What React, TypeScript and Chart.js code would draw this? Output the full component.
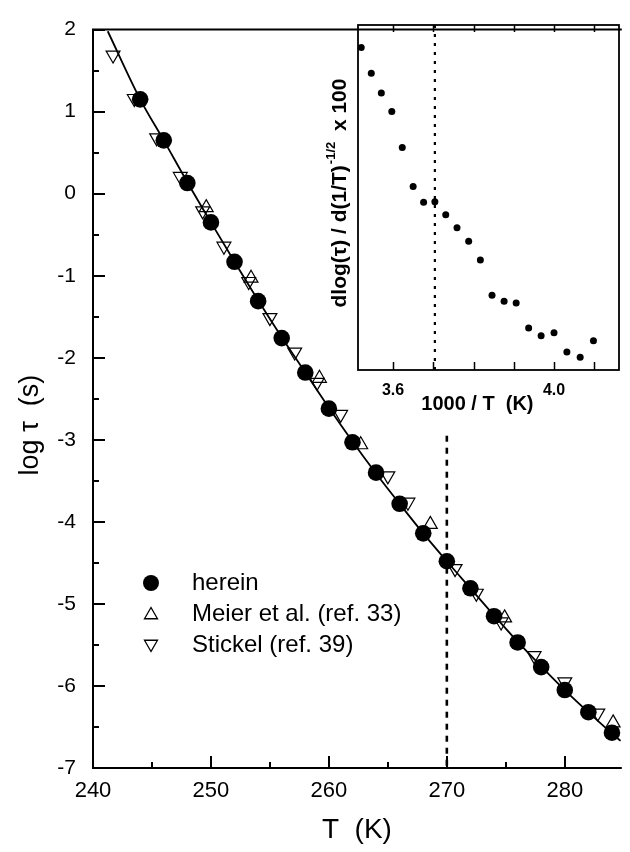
import React, { useEffect, useRef } from 'react';
import { Chart, registerables } from 'chart.js';

Chart.register(...registerables);

const FONT = '"Liberation Sans", Arial, Helvetica, sans-serif';
Chart.defaults.font.family = FONT;
Chart.defaults.color = '#000';

// ---------- main plot data ----------
const hereinT = [244, 246, 248, 250, 252, 254, 256, 258, 260, 262, 264, 266, 268, 270, 272, 274, 276, 278, 280, 282, 284];
const hereinLog = [1.15, 0.65, 0.13, -0.35, -0.83, -1.31, -1.76, -2.18, -2.62, -3.03, -3.4, -3.78, -4.14, -4.48, -4.81, -5.15, -5.47, -5.77, -6.05, -6.32, -6.57];

const meierT = [249.6, 253.4, 259.2, 262.7, 268.6, 274.9, 284.1];
const meierLog = [-0.17, -1.03, -2.25, -3.06, -4.03, -5.17, -6.45];

const stickelT = [241.7, 243.5, 245.4, 247.4, 249.3, 251.1, 253.2, 255.0, 257.1, 259.0, 261.0, 265.0, 266.7, 270.7, 272.5, 274.6, 277.4, 280.0, 282.8];
const stickelLog = [1.69, 1.16, 0.68, 0.21, -0.21, -0.64, -1.07, -1.51, -1.93, -2.3, -2.69, -3.44, -3.76, -4.57, -4.87, -5.22, -5.63, -5.95, -6.33];

const fitT = [241.25, 244, 246, 248, 250, 252, 254, 256, 258, 260, 262, 264, 266, 268, 270, 272, 274, 276, 278, 280, 282, 284, 284.75];
const fitLog = [1.98, 1.15, 0.65, 0.14, -0.35, -0.83, -1.3, -1.75, -2.18, -2.61, -3.02, -3.41, -3.78, -4.14, -4.48, -4.81, -5.14, -5.46, -5.76, -6.05, -6.32, -6.58, -6.67];

const markerT = [270, 270];
const markerLog = [-2.95, -7];

const xTickValues = [240, 250, 260, 270, 280];
const xTickLabels = ['240', '250', '260', '270', '280'];
const xMinorValues = [245, 255, 265, 275];
const yTickValues = [-7, -6, -5, -4, -3, -2, -1, 0, 1, 2];
const yTickLabels = ['-7', '-6', '-5', '-4', '-3', '-2', '-1', '0', '1', '2'];
const yMinorValues = [-6.5, -5.5, -4.5, -3.5, -2.5, -1.5, -0.5, 0.5, 1.5];

const legendLabels = ['herein', 'Meier et al. (ref. 33)', 'Stickel (ref. 39)'];

// ---------- inset data ----------
const insetX = [3.521, 3.546, 3.571, 3.597, 3.623, 3.65, 3.676, 3.704, 3.731, 3.759, 3.788, 3.817, 3.846, 3.876, 3.906, 3.937, 3.968, 4.0, 4.032, 4.065, 4.098];
const insetY = [9.35, 8.6, 8.03, 7.49, 6.45, 5.32, 4.86, 4.88, 4.5, 4.12, 3.73, 3.19, 2.17, 1.99, 1.94, 1.22, 0.99, 1.08, 0.52, 0.37, 0.85];
const insetLineX = [3.704, 3.704];
const insetLineY = [0, 10];
const insetTickValues = [3.6, 3.7, 3.8, 3.9, 4.0, 4.1];
const insetTickLabels = ['3.6', '', '', '', '4.0', ''];

const pts = (xs: number[], ys: number[]) => xs.map((x, i) => ({ x, y: ys[i] }));

const mainDecor = {
  id: 'mainDecor',
  afterDraw(chart: any) {
    const { ctx, chartArea: a, scales } = chart;
    const xs = scales.x;
    const ys = scales.y;
    ctx.save();
    ctx.strokeStyle = '#000';
    ctx.lineWidth = 2;
    ctx.lineCap = 'square';
    ctx.beginPath();
    ctx.moveTo(a.right, a.top);
    ctx.lineTo(a.left, a.top);
    ctx.lineTo(a.left, a.bottom);
    ctx.lineTo(a.right, a.bottom);
    ctx.stroke();
    ctx.lineCap = 'butt';
    ctx.beginPath();
    xTickValues.forEach((v) => {
      const p = Math.round(xs.getPixelForValue(v));
      ctx.moveTo(p, a.bottom);
      ctx.lineTo(p, a.bottom - 12);
    });
    xMinorValues.forEach((v) => {
      const p = Math.round(xs.getPixelForValue(v));
      ctx.moveTo(p, a.bottom);
      ctx.lineTo(p, a.bottom - 6);
    });
    yTickValues.forEach((v) => {
      const p = Math.round(ys.getPixelForValue(v));
      ctx.moveTo(a.left, p);
      ctx.lineTo(a.left + 12, p);
    });
    yMinorValues.forEach((v) => {
      const p = Math.round(ys.getPixelForValue(v));
      ctx.moveTo(a.left, p);
      ctx.lineTo(a.left + 6, p);
    });
    ctx.stroke();

    // legend
    const lx = 151;
    const ly = [583, 614, 645];
    ctx.fillStyle = '#000';
    ctx.beginPath();
    ctx.arc(lx, ly[0], 8, 0, Math.PI * 2);
    ctx.fill();
    const tri = (cx: number, cy: number, r: number, down: boolean) => {
      ctx.beginPath();
      let rad = down ? Math.PI : 0;
      for (let k = 0; k < 3; k++) {
        const px = cx + Math.sin(rad) * r;
        const py = cy - Math.cos(rad) * r;
        if (k === 0) ctx.moveTo(px, py);
        else ctx.lineTo(px, py);
        rad += (2 * Math.PI) / 3;
      }
      ctx.closePath();
      ctx.lineWidth = 1.3;
      ctx.stroke();
    };
    tri(lx, ly[1] + 1, 7.5, false);
    tri(lx, ly[2] - 1, 7.5, true);
    ctx.font = `24px ${FONT}`;
    ctx.textAlign = 'left';
    ctx.textBaseline = 'middle';
    legendLabels.forEach((t, i) => ctx.fillText(t, 192, ly[i]));
    ctx.restore();
  },
};

const insetDecor = {
  id: 'insetDecor',
  afterDraw(chart: any) {
    const { ctx, chartArea: a, scales } = chart;
    const xs = scales.x;
    ctx.save();
    ctx.strokeStyle = '#000';
    ctx.lineWidth = 1.8;
    ctx.strokeRect(a.left, a.top, a.right - a.left, a.bottom - a.top);
    ctx.lineWidth = 1.5;
    ctx.beginPath();
    insetTickValues.forEach((v) => {
      const p = Math.round(xs.getPixelForValue(v)) + 0.5;
      ctx.moveTo(p, a.top);
      ctx.lineTo(p, a.top + 7);
      ctx.moveTo(p, a.bottom);
      ctx.lineTo(p, a.bottom - 8);
    });
    ctx.stroke();

    // rotated y title with superscript
    const main = 'dlog(\u03c4) / d(1/T)';
    const sup = '-1/2';
    const tail = '  x 100';
    const bigFont = `bold 21px ${FONT}`;
    const supFont = `bold 13px ${FONT}`;
    ctx.font = bigFont;
    const w1 = ctx.measureText(main).width;
    const w3 = ctx.measureText(tail).width;
    ctx.font = supFont;
    const w2 = ctx.measureText(sup).width;
    const total = w1 + w2 + w3;
    const cx = 40;
    const cy = 193;
    ctx.translate(cx, cy + total / 2);
    ctx.rotate(-Math.PI / 2);
    ctx.fillStyle = '#000';
    ctx.textAlign = 'left';
    ctx.textBaseline = 'middle';
    ctx.font = bigFont;
    ctx.fillText(main, 0, 0);
    ctx.font = supFont;
    ctx.fillText(sup, w1 + 1, -9);
    ctx.font = bigFont;
    ctx.fillText(tail, w1 + w2, 0);
    ctx.restore();
  },
};

export default function App() {
  const mainRef = useRef<HTMLCanvasElement>(null);
  const insetRef = useRef<HTMLCanvasElement>(null);

  useEffect(() => {
    const main = new Chart(mainRef.current as HTMLCanvasElement, {
      type: 'scatter',
      data: {
        datasets: [
          {
            label: legendLabels[0],
            data: pts(hereinT, hereinLog),
            pointStyle: 'circle',
            pointRadius: 8.3,
            backgroundColor: '#000',
            borderColor: '#000',
            borderWidth: 0,
            showLine: false,
            clip: false,
          },
          {
            label: legendLabels[1],
            data: pts(meierT, meierLog),
            pointStyle: 'triangle',
            pointRadius: 8,
            backgroundColor: 'rgba(0,0,0,0)',
            borderColor: '#000',
            borderWidth: 1.2,
            showLine: false,
            clip: false,
          },
          {
            label: legendLabels[2],
            data: pts(stickelT, stickelLog),
            pointStyle: 'triangle',
            rotation: 180,
            pointRadius: 8,
            backgroundColor: 'rgba(0,0,0,0)',
            borderColor: '#000',
            borderWidth: 1.2,
            showLine: false,
            clip: false,
          },
          {
            label: 'fit',
            data: pts(fitT, fitLog),
            showLine: true,
            pointRadius: 0,
            borderColor: '#000',
            borderWidth: 1.8,
            cubicInterpolationMode: 'monotone',
            fill: false,
          },
          {
            label: 'T = 270 K',
            data: pts(markerT, markerLog),
            showLine: true,
            pointRadius: 0,
            borderColor: '#000',
            borderWidth: 2.6,
            borderDash: [6, 6],
            fill: false,
          },
        ],
      } as any,
      options: {
        animation: false,
        responsive: false,
        devicePixelRatio: 1,
        layout: { padding: { top: 17, right: 0, left: 0, bottom: 0 } },
        plugins: { legend: { display: false }, tooltip: { enabled: false } },
        scales: {
          x: {
            type: 'linear',
            min: 240,
            max: 284.75,
            grid: { display: false, drawTicks: false },
            border: { display: false },
            afterBuildTicks: (s: any) => {
              s.ticks = xTickValues.map((v) => ({ value: v }));
            },
            ticks: {
              font: { size: 22 },
              color: '#000',
              padding: 10,
              maxRotation: 0,
              autoSkip: false,
              callback: (v: any) => xTickLabels[xTickValues.indexOf(Number(v))] ?? '',
            },
            title: {
              display: true,
              text: 'T  (K)',
              font: { size: 28 },
              color: '#000',
              padding: { top: 0, bottom: 5 },
            },
            afterFit: (s: any) => {
              s.height = 84;
            },
          },
          y: {
            type: 'linear',
            min: -7,
            max: 2,
            grid: { display: false, drawTicks: false },
            border: { display: false },
            afterBuildTicks: (s: any) => {
              s.ticks = yTickValues.map((v) => ({ value: v }));
            },
            ticks: {
              font: { size: 21 },
              color: '#000',
              padding: 17,
              autoSkip: false,
              callback: (v: any) => yTickLabels[yTickValues.indexOf(Number(v))] ?? '',
            },
            title: {
              display: true,
              text: 'log \u03c4  (s)       ',
              font: { size: 27 },
              color: '#000',
              padding: { top: 14, bottom: 0 },
            },
            afterFit: (s: any) => {
              s.width = 93;
            },
          },
        },
      } as any,
      plugins: [mainDecor],
    });

    const inset = new Chart(insetRef.current as HTMLCanvasElement, {
      type: 'scatter',
      data: {
        datasets: [
          {
            label: 'dlog',
            data: pts(insetX, insetY),
            pointRadius: 3.5,
            backgroundColor: '#000',
            borderWidth: 0,
            showLine: false,
          },
          {
            label: '270 K',
            data: pts(insetLineX, insetLineY),
            showLine: true,
            pointRadius: 0,
            borderColor: '#000',
            borderWidth: 2.2,
            borderDash: [3, 6],
          },
        ],
      } as any,
      options: {
        animation: false,
        responsive: false,
        devicePixelRatio: 1,
        layout: { padding: { top: 25, right: 11, left: 0, bottom: 0 } },
        plugins: { legend: { display: false }, tooltip: { enabled: false } },
        scales: {
          x: {
            type: 'linear',
            min: 3.513,
            max: 4.1615,
            grid: { display: false, drawTicks: false },
            border: { display: false },
            afterBuildTicks: (s: any) => {
              s.ticks = insetTickValues.map((v) => ({ value: v }));
            },
            ticks: {
              font: { size: 16, weight: 'bold' },
              color: '#000',
              padding: 11,
              maxRotation: 0,
              autoSkip: false,
              callback: (v: any) => {
                const i = insetTickValues.findIndex((t) => Math.abs(t - Number(v)) < 1e-6);
                return i >= 0 ? insetTickLabels[i] : '';
              },
            },
            title: {
              display: true,
              text: '1000 / T  (K)    ',
              font: { size: 20, weight: 'bold' },
              color: '#000',
              padding: { top: 0, bottom: 4 },
            },
            afterFit: (s: any) => {
              s.height = 50;
            },
          },
          y: {
            type: 'linear',
            min: 0,
            max: 10,
            grid: { display: false, drawTicks: false },
            border: { display: false },
            ticks: { display: false },
            afterFit: (s: any) => {
              s.width = 58;
            },
          },
        },
      } as any,
      plugins: [insetDecor],
    });

    return () => {
      main.destroy();
      inset.destroy();
    };
  }, []);

  return (
    <div style={{ position: 'absolute', left: 0, top: 0, width: 630, height: 852, background: '#fff' }}>
      <canvas
        ref={mainRef}
        width={630}
        height={852}
        style={{ position: 'absolute', left: 0, top: 0, width: 630, height: 852 }}
      />
      <canvas
        ref={insetRef}
        width={330}
        height={420}
        style={{ position: 'absolute', left: 300, top: 0, width: 330, height: 420 }}
      />
    </div>
  );
}
